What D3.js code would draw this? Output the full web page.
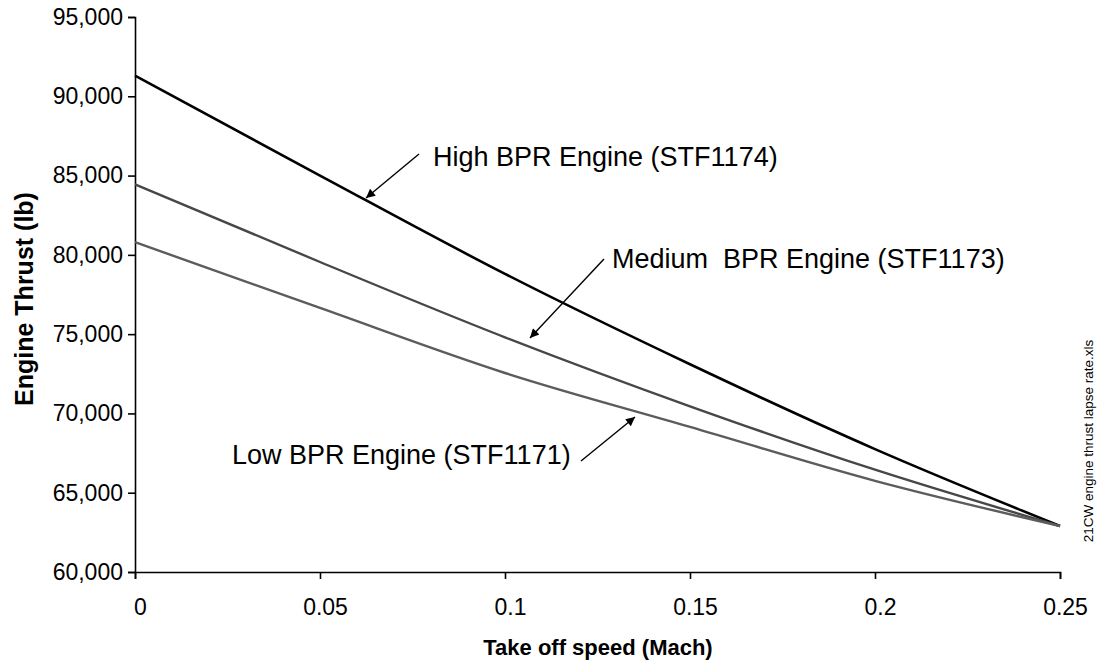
<!DOCTYPE html>
<html>
<head>
<meta charset="utf-8">
<script src="https://cdn.jsdelivr.net/npm/d3@7"></script>
<style>
  html, body { margin: 0; padding: 0; background: #fff; }
  svg { display: block; font-family: "Liberation Sans", Arial, sans-serif; }
</style>
</head>
<body>
<svg id="chart" width="1097" height="660"></svg>
<script>
// ---- data ----
const machValues = [0, 0.05, 0.1, 0.15, 0.2, 0.25];
const highBPR   = [91300, 85000, 78800, 73100, 67750, 62900];
const mediumBPR = [84450, 79550, 74800, 70450, 66450, 62900];
const lowBPR    = [80800, 76650, 72550, 69150, 65750, 62900];
const xTicks = [0, 0.05, 0.1, 0.15, 0.2, 0.25];
const yTicks = [60000, 65000, 70000, 75000, 80000, 85000, 90000, 95000];
const seriesNames = ["High BPR Engine (STF1174)", "Medium  BPR Engine (STF1173)", "Low BPR Engine (STF1171)"];
const xTitle = "Take off speed (Mach)";
const yTitle = "Engine Thrust (lb)";
const sideNote = "21CW engine thrust lapse rate.xls";

// ---- layout ----
const svg = d3.select("#chart");
const plotLeft = 135, plotRight = 1060, plotTop = 17, plotBottom = 572;
const x = d3.scaleLinear().domain([0, 0.25]).range([plotLeft, plotRight]);
const y = d3.scaleLinear().domain([60000, 95000]).range([plotBottom, plotTop]);

// axes
const yAxis = d3.axisLeft(y).tickValues(yTicks).tickSize(7).tickPadding(5)
  .tickFormat(d3.format(","));
const gy = svg.append("g").attr("transform", `translate(${plotLeft},0)`).call(yAxis);
const xAxis = d3.axisBottom(x).tickValues(xTicks).tickSize(7).tickPadding(20)
  .tickFormat(d => d === 0 ? "0" : String(d));
const gx = svg.append("g").attr("transform", `translate(0,${plotBottom})`).call(xAxis);

[gx, gy].forEach(g => {
  g.select(".domain").attr("stroke", "#000").attr("stroke-width", 1.6);
  g.selectAll(".tick line").attr("stroke", "#000").attr("stroke-width", 1.6);
  g.selectAll(".tick text").attr("fill", "#000")
    .attr("font-family", "Liberation Sans, Arial, sans-serif").attr("font-size", 23);
});
gx.selectAll(".tick text").attr("dx", 5);

// axis titles
svg.append("text").attr("x", 598).attr("y", 655).attr("text-anchor", "middle")
  .attr("font-size", 22).attr("font-weight", "bold").text(xTitle);
svg.append("text").attr("transform", "translate(33,299) rotate(-90)")
  .attr("text-anchor", "middle").attr("font-size", 25).attr("font-weight", "bold").text(yTitle);

// side note
svg.append("text").attr("transform", "translate(1093,441) rotate(-90)")
  .attr("text-anchor", "middle").attr("font-size", 13.5).attr("fill", "#000").text(sideNote);

// lines
const series = [
  { values: highBPR,   color: "#000000", width: 2.6 },
  { values: mediumBPR, color: "#474747", width: 2.4 },
  { values: lowBPR,    color: "#5c5c5c", width: 2.4 }
];
const line = d3.line().x(d => x(d[0])).y(d => y(d[1])).curve(d3.curveMonotoneX);
series.forEach(s => {
  svg.append("path")
    .datum(machValues.map((m, i) => [m, s.values[i]]))
    .attr("fill", "none").attr("stroke", s.color).attr("stroke-width", s.width)
    .attr("stroke-linejoin", "round").attr("d", line);
});

// arrowhead marker
svg.append("defs").append("marker")
  .attr("id", "arrow").attr("viewBox", "0 0 10 10").attr("refX", 10).attr("refY", 5)
  .attr("markerWidth", 12).attr("markerHeight", 9).attr("markerUnits", "userSpaceOnUse")
  .attr("orient", "auto")
  .append("path").attr("d", "M0,0 L10,5 L0,10 z").attr("fill", "#000");

// annotations
const annotations = [
  { text: seriesNames[0], tx: 433, ty: 166, from: [419, 154], to: [366, 198] },
  { text: seriesNames[1], tx: 612, ty: 268, from: [604, 259], to: [530, 338] },
  { text: seriesNames[2], tx: 232, ty: 464, from: [581, 461], to: [635, 417] }
];
annotations.forEach(a => {
  svg.append("text").attr("x", a.tx).attr("y", a.ty).attr("font-size", 27)
    .style("white-space", "pre").attr("fill", "#000").text(a.text);
  svg.append("line").attr("x1", a.from[0]).attr("y1", a.from[1])
    .attr("x2", a.to[0]).attr("y2", a.to[1])
    .attr("stroke", "#000").attr("stroke-width", 1.4).attr("marker-end", "url(#arrow)");
});
</script>
</body>
</html>
